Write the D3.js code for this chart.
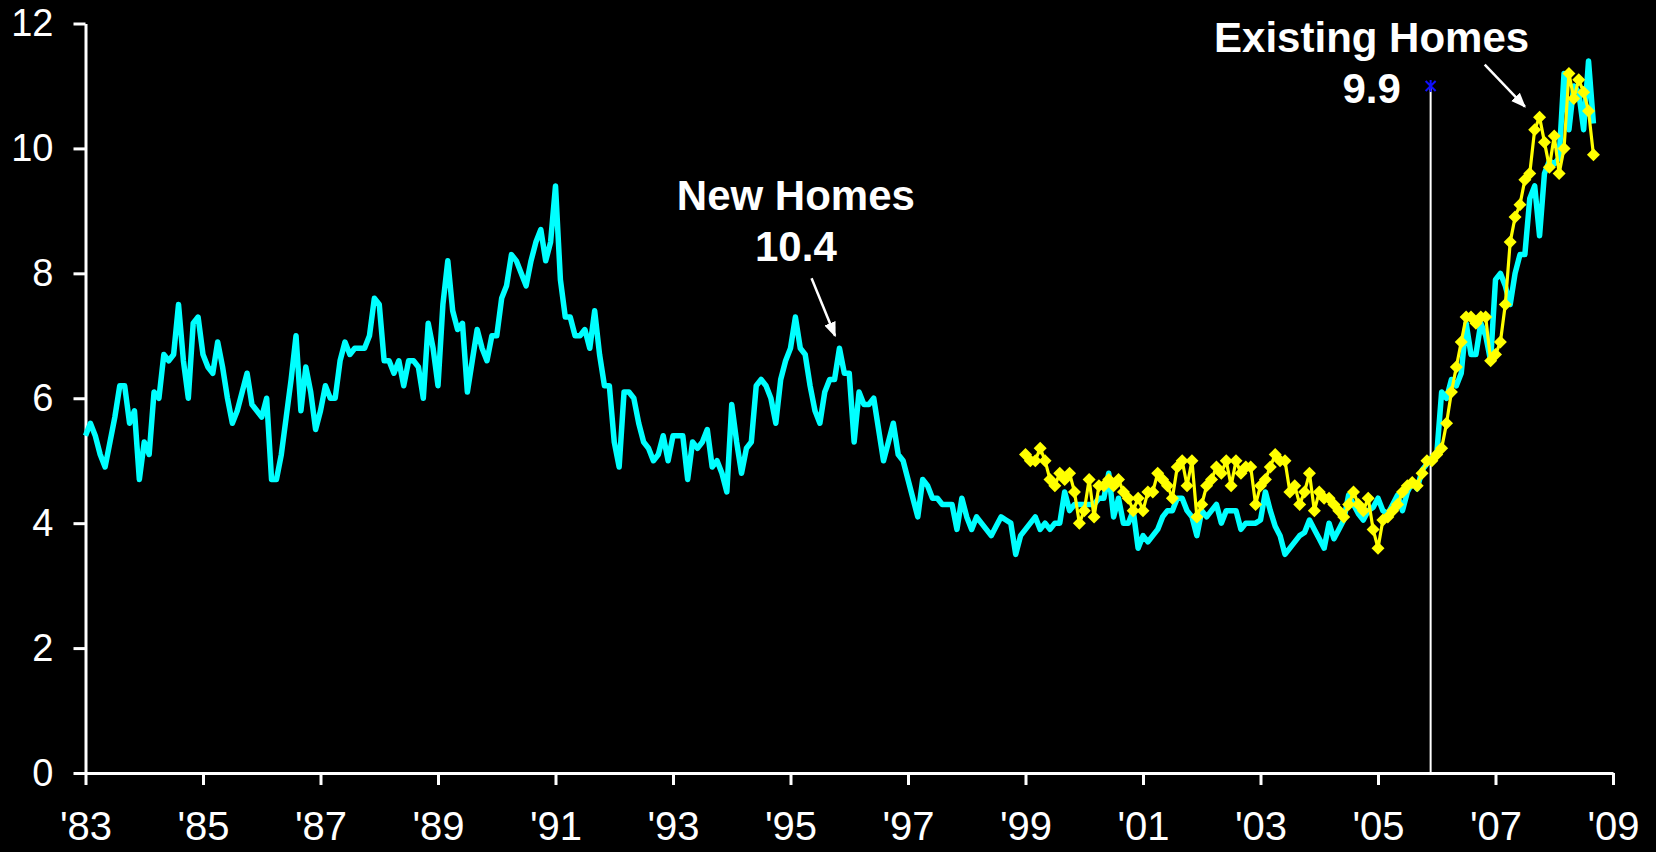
<!DOCTYPE html>
<html>
<head>
<meta charset="utf-8">
<script src="https://cdn.jsdelivr.net/npm/d3@7"></script>
<style>
  html, body { margin: 0; padding: 0; background: #000; }
  svg { display: block; font-family: "Liberation Sans", Arial, sans-serif; }
</style>
</head>
<body>
<div id="chart"></div>
<script>
// months of supply, monthly, new homes start Jan 1983
var newHomesStart = 0;
var newHomes = [
  5.4, 5.6, 5.4, 5.1, 4.9, 5.3, 5.7, 6.2, 6.2, 5.6, 5.8, 4.7,
  5.3, 5.1, 6.1, 6.0, 6.7, 6.6, 6.7, 7.5, 6.6, 6.0, 7.2, 7.3,
  6.7, 6.5, 6.4, 6.9, 6.5, 6.0, 5.6, 5.8, 6.1, 6.4, 5.9, 5.8,
  5.7, 6.0, 4.7, 4.7, 5.1, 5.7, 6.3, 7.0, 5.8, 6.5, 6.1, 5.5,
  5.8, 6.2, 6.0, 6.0, 6.6, 6.9, 6.7, 6.8, 6.8, 6.8, 7.0, 7.6,
  7.5, 6.6, 6.6, 6.4, 6.6, 6.2, 6.6, 6.6, 6.5, 6.0, 7.2, 6.8,
  6.2, 7.5, 8.2, 7.4, 7.1, 7.2, 6.1, 6.6, 7.1, 6.8, 6.6, 7.0,
  7.0, 7.6, 7.8, 8.3, 8.2, 8.0, 7.8, 8.2, 8.5, 8.7, 8.2, 8.5,
  9.4, 7.9, 7.3, 7.3, 7.0, 7.0, 7.1, 6.8, 7.4, 6.7, 6.2, 6.2,
  5.3, 4.9, 6.1, 6.1, 6.0, 5.6, 5.3, 5.2, 5.0, 5.1, 5.4, 5.0,
  5.4, 5.4, 5.4, 4.7, 5.3, 5.2, 5.3, 5.5, 4.9, 5.0, 4.8, 4.5,
  5.9, 5.3, 4.8, 5.2, 5.3, 6.2, 6.3, 6.2, 6.0, 5.6, 6.3, 6.6,
  6.8, 7.3, 6.8, 6.7, 6.2, 5.8, 5.6, 6.1, 6.3, 6.3, 6.8, 6.4,
  6.4, 5.3, 6.1, 5.9, 5.9, 6.0, 5.5, 5.0, 5.3, 5.6, 5.1, 5.0,
  4.7, 4.4, 4.1, 4.7, 4.6, 4.4, 4.4, 4.3, 4.3, 4.3, 3.9, 4.4,
  4.1, 3.9, 4.1, 4.0, 3.9, 3.8, 3.95, 4.1, 4.05, 4.0, 3.5, 3.8,
  3.9, 4.0, 4.1, 3.9, 4.0, 3.9, 4.0, 4.0, 4.5, 4.2, 4.3, 4.3,
  4.3, 4.3, 4.3, 4.4, 4.4, 4.8, 4.1, 4.4, 4.0, 4.0, 4.2, 3.6,
  3.8, 3.7, 3.8, 3.9, 4.1, 4.2, 4.2, 4.4, 4.4, 4.2, 4.1, 3.8,
  4.2, 4.1, 4.2, 4.3, 4.0, 4.2, 4.2, 4.2, 3.9, 4.0, 4.0, 4.0,
  4.05, 4.5, 4.2, 3.95, 3.8, 3.5, 3.6, 3.7, 3.8, 3.85, 4.05, 3.9,
  3.75, 3.6, 4.0, 3.75, 3.9, 4.05, 4.45, 4.3, 4.15, 4.05, 4.2, 4.25,
  4.4, 4.2, 4.15, 4.3, 4.45, 4.2, 4.5, 4.65, 4.55, 4.85, 4.95, 5.05,
  5.1, 6.1, 6.0, 6.3, 6.2, 6.4, 7.2, 6.7, 6.7, 7.2, 7.0, 6.6,
  7.9, 8.0, 7.8, 7.5, 8.0, 8.3, 8.3, 9.2, 9.4, 8.6, 9.6, 9.8,
  9.75, 9.85, 11.2, 10.3, 11.0, 10.9, 10.3, 11.4, 10.4
];

// existing homes start Jan 1999 (month 192)
var existingStart = 192;
var existingHomes = [
  5.1, 5.0, 5.0, 5.2, 5.0, 4.7, 4.6, 4.8, 4.7, 4.8, 4.5, 4.0,
  4.2, 4.7, 4.1, 4.6, 4.6, 4.7, 4.6, 4.7, 4.5, 4.4, 4.2, 4.4,
  4.2, 4.5, 4.5, 4.8, 4.7, 4.6, 4.4, 4.9, 5.0, 4.6, 5.0, 4.1,
  4.3, 4.6, 4.7, 4.9, 4.8, 5.0, 4.6, 5.0, 4.8, 4.9, 4.9, 4.3,
  4.6, 4.7, 4.9, 5.1, 5.0, 5.0, 4.5, 4.6, 4.3, 4.5, 4.8, 4.2,
  4.5, 4.4, 4.4, 4.3, 4.2, 4.1, 4.3, 4.5, 4.3, 4.2, 4.4, 3.9,
  3.6, 4.05, 4.1, 4.2, 4.3, 4.5, 4.6, 4.65, 4.6, 4.8, 5.0, 5.0,
  5.1, 5.2, 5.6, 6.1, 6.5, 6.9, 7.3, 7.3, 7.2, 7.3, 7.3, 6.6,
  6.7, 6.9, 7.5, 8.5, 8.9, 9.1, 9.5, 9.6, 10.3, 10.5, 10.1, 9.7,
  10.2, 9.6, 10.0, 11.2, 10.8, 11.1, 10.9, 10.6, 9.9
];

// x axis: months since Jan 1983, a label every two years
var axisEnd = 312;
var yearLabels = ["'83", "'85", "'87", "'89", "'91", "'93", "'95", "'97", "'99", "'01", "'03", "'05", "'07", "'09"];
var yTicks = [0, 2, 4, 6, 8, 10, 12];

// vertical marker (late Nov 2005) with its blue point at the top
var markerMonth = 274.75;
var markerValue = 11;

var annotations = [
  { lines: ["New Homes", "10.4"], month: 145.1, value: 9.02, arrow: [[148.3, 7.92], [153.1, 7.0]] },
  { lines: ["Existing Homes", "9.9"], month: 262.7, value: 11.55, arrow: [[285.8, 11.34], [294.0, 10.67]] }
];

var width = 1656, height = 852;
var margin = { top: 23.5, right: 43, bottom: 79, left: 85.5 };

var svg = d3.select("#chart").append("svg")
    .attr("width", width)
    .attr("height", height);

svg.append("rect").attr("width", width).attr("height", height).attr("fill", "#000");

var x = d3.scaleLinear().domain([0, axisEnd]).range([margin.left, width - margin.right]);
var y = d3.scaleLinear().domain([0, 12]).range([height - margin.bottom, margin.top]);

// arrow head
svg.append("defs").append("marker")
    .attr("id", "arrow")
    .attr("viewBox", "0 0 10 10")
    .attr("refX", 9).attr("refY", 5)
    .attr("markerWidth", 6).attr("markerHeight", 6)
    .attr("markerUnits", "strokeWidth")
    .attr("orient", "auto")
  .append("path")
    .attr("d", "M0,1 L10,5 L0,9 Z")
    .attr("fill", "#fff");

// y axis
var yAxis = svg.append("g")
    .attr("transform", "translate(" + x(0) + ",0)")
    .call(d3.axisLeft(y).tickValues(yTicks).tickSize(12).tickPadding(20).tickSizeOuter(0));
yAxis.selectAll("text")
    .attr("fill", "#fff")
    .style("font-size", "38px");

// x axis
var xAxis = svg.append("g")
    .attr("transform", "translate(0," + y(0) + ")")
    .call(d3.axisBottom(x)
      .tickValues(yearLabels.map(function(d, i) { return i * 24; }))
      .tickFormat(function(d, i) { return yearLabels[i]; })
      .tickSize(12).tickPadding(27).tickSizeOuter(0));
xAxis.selectAll("text")
    .attr("fill", "#fff")
    .style("font-size", "40px");

svg.selectAll(".domain, .tick line")
    .attr("stroke", "#fff")
    .attr("stroke-width", 3);

// vertical marker line
svg.append("line")
    .attr("x1", x(markerMonth)).attr("x2", x(markerMonth))
    .attr("y1", y(0)).attr("y2", y(markerValue))
    .attr("stroke", "#fff")
    .attr("stroke-width", 2);

var star = svg.append("g")
    .attr("transform", "translate(" + x(markerMonth) + "," + y(markerValue) + ")")
    .attr("stroke", "#1010ff")
    .attr("stroke-width", 2);
star.append("path").attr("d", "M-5,-5L5,5M-5,5L5,-5M0,-6L0,6");

// lines
var lineNew = d3.line()
    .x(function(d, i) { return x(newHomesStart + i); })
    .y(function(d) { return y(d); });

svg.append("path")
    .datum(newHomes)
    .attr("d", lineNew)
    .attr("fill", "none")
    .attr("stroke", "#00ffff")
    .attr("stroke-width", 5.5)
    .attr("stroke-linejoin", "round");

var lineExisting = d3.line()
    .x(function(d, i) { return x(existingStart + i); })
    .y(function(d) { return y(d); });

svg.append("path")
    .datum(existingHomes)
    .attr("d", lineExisting)
    .attr("fill", "none")
    .attr("stroke", "#ffff00")
    .attr("stroke-width", 3.2);

svg.selectAll("path.diamond")
    .data(existingHomes)
  .enter().append("path")
    .attr("class", "diamond")
    .attr("transform", function(d, i) { return "translate(" + x(existingStart + i) + "," + y(d) + ")"; })
    .attr("d", "M0,-6.5L6.5,0L0,6.5L-6.5,0Z")
    .attr("fill", "#ffff00");

// annotations
annotations.forEach(function(a) {
  var t = svg.append("text")
      .attr("x", x(a.month))
      .attr("y", y(a.value))
      .attr("text-anchor", "middle")
      .attr("fill", "#fff")
      .style("font-size", "42px")
      .style("font-weight", "bold");
  a.lines.forEach(function(s, i) {
    t.append("tspan")
      .attr("x", x(a.month))
      .attr("dy", i === 0 ? 0 : 51)
      .text(s);
  });
  svg.append("line")
      .attr("x1", x(a.arrow[0][0])).attr("y1", y(a.arrow[0][1]))
      .attr("x2", x(a.arrow[1][0])).attr("y2", y(a.arrow[1][1]))
      .attr("stroke", "#fff")
      .attr("stroke-width", 2.5)
      .attr("marker-end", "url(#arrow)");
});
</script>
</body>
</html>
